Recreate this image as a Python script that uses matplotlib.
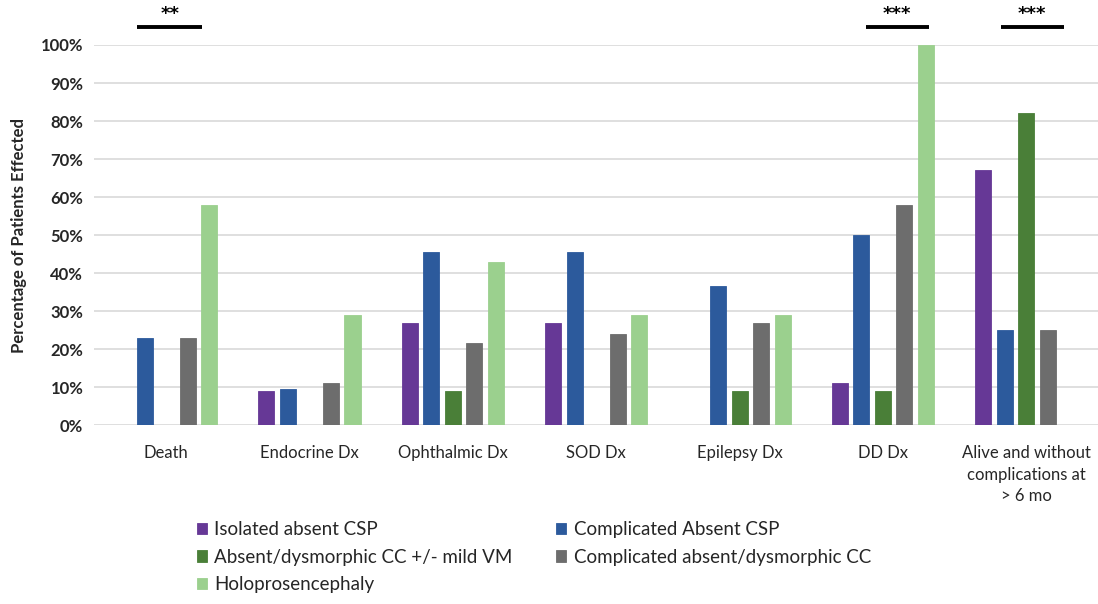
import numpy as np
import matplotlib
matplotlib.use("Agg")
import matplotlib.pyplot as plt

# chart data
categories = ["Death", "Endocrine Dx", "Ophthalmic Dx", "SOD Dx", "Epilepsy Dx", "DD Dx",
              "Alive and without\ncomplications at\n> 6 mo"]
series_names = ["Isolated absent CSP", "Complicated Absent CSP",
                "Absent/dysmorphic CC +/- mild VM", "Complicated absent/dysmorphic CC",
                "Holoprosencephaly"]
isolated_csp = [0, 9, 27, 27, 0, 11, 67]
complicated_csp = [23, 9.5, 45.5, 45.5, 36.5, 50, 25]
absent_cc = [0, 0, 9, 0, 9, 9, 82]
complicated_cc = [23, 11, 21.5, 24, 27, 58, 25]
holoprosencephaly = [58, 29, 43, 29, 29, 100, 0]
yticks = [0, 10, 20, 30, 40, 50, 60, 70, 80, 90, 100]
# significance brackets: (category index, left offset, right offset, label)
sig_marks = [(0, -0.20, 0.25, "**"), (5, -0.12, 0.32, "***"), (6, -0.18, 0.26, "***")]

colors = ["#663896", "#2c5a9c", "#4a7f38", "#6d6d6d", "#9bd08e"]
all_series = [isolated_csp, complicated_csp, absent_cc, complicated_cc, holoprosencephaly]

plt.rcParams["font.family"] = ["Lato", "DejaVu Sans"]

fig = plt.figure(figsize=(10.98, 6.04), dpi=100)
ax = fig.add_axes([0.086, 0.296, 0.914, 0.6295])

x = np.arange(len(categories))
stride = 0.15
width = 0.112
handles = []
for i, (vals, col) in enumerate(zip(all_series, colors)):
    h = ax.bar(x + (i - 2) * stride, vals, width, color=col, edgecolor=col,
               linewidth=0.6, zorder=3, label=series_names[i])
    handles.append(h)

ax.set_xlim(-0.5, len(categories) - 0.5)
ax.set_ylim(0, 100)
ax.set_yticks(yticks)
ax.set_yticklabels([f"{v}%" for v in yticks], fontsize=12, color="#262626", fontweight="bold")
ax.set_xticks(x)
ax.set_xticklabels(categories, fontsize=12, color="#262626", linespacing=1.45)
ax.tick_params(axis="x", length=0, pad=14)
ax.tick_params(axis="y", length=0, pad=8)
ax.grid(axis="y", color="#d9d9d9", linewidth=1.2, zorder=0)
for s in ax.spines.values():
    s.set_visible(False)
ax.set_ylabel("Percentage of Patients Effected", fontsize=12, color="#262626",
              fontweight="bold", labelpad=10)

for idx, lo, hi, label in sig_marks:
    ax.plot([idx + lo, idx + hi], [104.8, 104.8], color="black", linewidth=2.8,
            clip_on=False, solid_capstyle="butt")
    ax.text(idx + (lo + hi) / 2, 108.2, label, ha="center", va="center",
            fontsize=13, fontweight="bold", family="DejaVu Sans", clip_on=False)

order = [0, 2, 4, 1, 3]
fig.legend([handles[i] for i in order], [series_names[i] for i in order],
           ncol=2, loc="upper left", bbox_to_anchor=(0.179, 0.137), frameon=False,
           fontsize=13.5, handlelength=0.55, handleheight=0.55, handletextpad=0.4,
           columnspacing=2.3, labelspacing=0.55, borderaxespad=0, borderpad=0,
           labelcolor="#262626")

fig.savefig("out.png", dpi=100)
